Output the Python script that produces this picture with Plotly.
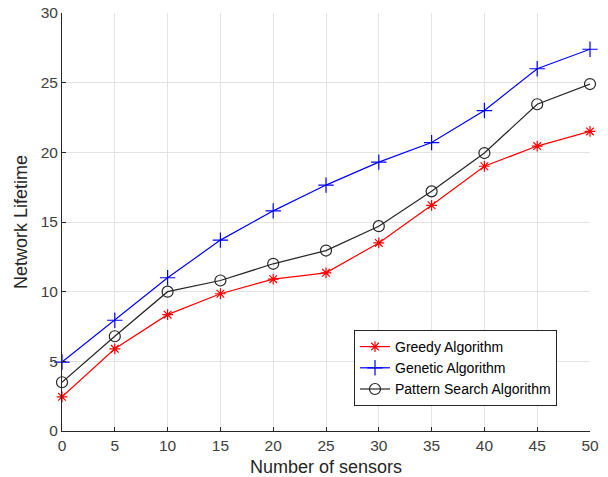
import plotly.graph_objects as go

sensors = [0, 5, 10, 15, 20, 25, 30, 35, 40, 45, 50]
greedy = [2.45, 5.9, 8.35, 9.85, 10.9, 11.35, 13.5, 16.2, 19.0, 20.45, 21.5]
genetic = [4.95, 7.95, 11.0, 13.7, 15.8, 17.65, 19.3, 20.7, 23.0, 26.0, 27.4]
pattern = [3.5, 6.8, 10.0, 10.8, 12.0, 12.95, 14.7, 17.2, 19.95, 23.45, 24.9]

names = ["Greedy Algorithm", "Genetic Algorithm", "Pattern Search Algorithm"]
colors = ["#ff0000", "#0000ff", "#262626"]
symbols = ["asterisk-open", "cross-thin-open", "circle-open"]
sizes = [9, 11, 11]

fig = go.Figure()
for y, n, c, s, sz in zip([greedy, genetic, pattern], names, colors, symbols, sizes):
    fig.add_trace(go.Scatter(
        x=sensors, y=y, name=n, mode="lines+markers",
        line=dict(color=c, width=1.2),
        marker=dict(symbol=s, size=sz, color=c, line=dict(color=c, width=1.2)),
        cliponaxis=False,
    ))

axis_common = dict(
    showgrid=True, gridcolor="#e3e3e3", gridwidth=1,
    showline=True, linecolor="#262626", linewidth=1,
    ticks="inside", ticklen=4, tickcolor="#262626",
    tickfont=dict(size=15.5, color="#404040"),
    zeroline=False, mirror=False, automargin=False,
)

fig.update_layout(
    width=608, height=477,
    margin=dict(l=62, r=18, t=13, b=46),
    paper_bgcolor="white", plot_bgcolor="white",
    font=dict(family="Liberation Sans, Arial, sans-serif", color="#262626"),
    xaxis=dict(range=[0, 50], dtick=5, tick0=0,
               title=dict(text="Number of sensors", font=dict(size=18, color="#262626"), standoff=7),
               **axis_common),
    yaxis=dict(range=[0, 30], dtick=5, tick0=0,
               title=dict(text="Network Lifetime", font=dict(size=18, color="#262626"), standoff=8),
               **axis_common),
    legend=dict(x=(354 - 62) / 528, y=(431 - 330) / 418, xanchor="left", yanchor="top",
                bgcolor="white", bordercolor="#262626", borderwidth=1,
                font=dict(size=14, color="#000000"),
                tracegroupgap=0, itemwidth=30),
    showlegend=True,
)

fig.write_html("out.html")
